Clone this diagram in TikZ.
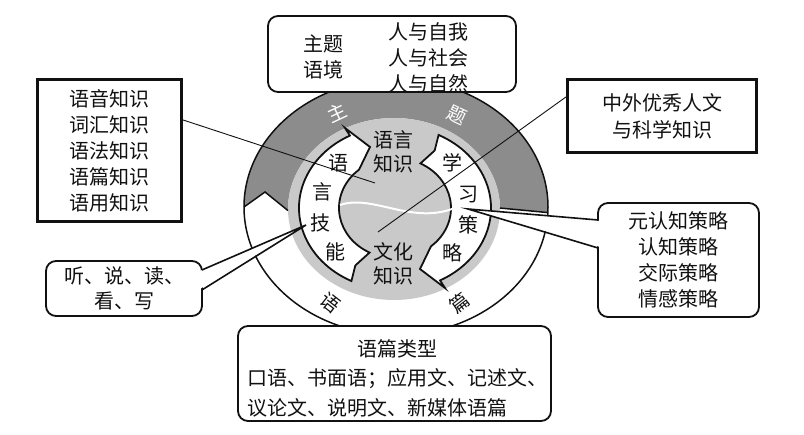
\documentclass[tikz,border=0pt]{standalone}
\usepackage{fontspec}
\newfontfamily\cjk{Noto Sans CJK SC}
\usepackage{xcolor}
\definecolor{ink}{HTML}{111111}
\definecolor{themegray}{HTML}{8C8C8C}
\definecolor{ringgray}{HTML}{C9C9C9}
\usepackage{tikz}
\usetikzlibrary{calc}
% one curved arrow of the inner ring, drawn round the origin
\newcommand{\ringarrow}{%
  (243:96pt and 82pt) arc[start angle=243, end angle=118, x radius=96pt, y radius=82pt]
  -- (-50,80) -- (-25,61) -- (130:56pt and 50pt)
  arc[start angle=130, end angle=243, x radius=56pt, y radius=50pt]
  -- (239:77pt and 67pt) -- cycle}

\begin{document}
\begin{tikzpicture}[x=1pt, y=1pt,
  font=\cjk\fontsize{20}{26}\selectfont,
  txt/.style={align=center, inner sep=0pt, text=ink},
  sqbox/.style={draw=ink, line width=3.2pt, fill=white, inner sep=0pt, align=center, text=ink},
  rbox/.style={draw=ink, line width=1.8pt, fill=white, rounded corners=10pt, inner sep=0pt,
               align=center, text=ink},
  lead/.style={draw=ink, line width=0.9pt},
  ptr/.style={draw=ink, line width=1.6pt, line join=miter},
  arrowbody/.style={draw=ink, line width=1.8pt, fill=white, line join=miter},
  ringtxt/.style={inner sep=0pt, font=\cjk\fontsize{19}{19}\selectfont}
]
  \useasboundingbox (0,0) rectangle (804,-435);
  \coordinate (oc) at (396,-207);
  \coordinate (gc) at (394,-209);

  % outer ring: theme (dark) and discourse (white)
  \fill[white] (oc) ellipse[x radius=152pt, y radius=128pt];
  \fill[themegray] ($(oc)+(-2.5:152pt and 128pt)$)
        arc[start angle=-2.5, end angle=180, x radius=152pt, y radius=128pt]
        -- (265,-192) -- ($(gc)+(181:106pt and 91pt)$)
        arc[start angle=181, end angle=0.6, x radius=106pt, y radius=91pt] -- cycle;
  \fill[ringgray] (gc) ellipse[x radius=106pt, y radius=91pt];
  \draw[ink, line width=1.5pt] (oc) ellipse[x radius=152pt, y radius=128pt];
  \draw[ink, line width=1.5pt] ($(oc)+(180:152pt and 128pt)$) -- (265,-192)
        -- ($(gc)+(181:106pt and 91pt)$);
  \draw[ink, line width=1.5pt] ($(oc)+(-2.5:152pt and 128pt)$) -- ($(gc)+(0.6:106pt and 91pt)$);

  % inner ring arrows
  \begin{scope}[shift={(395,-208)}]
    \draw[arrowbody] \ringarrow;
  \end{scope}
  \begin{scope}[shift={(395,-208)}, rotate=180]
    \draw[arrowbody] \ringarrow;
  \end{scope}

  % ring labels
  \node[ringtxt, text=white, rotate=25]  (zt1) at (337,-113) {主};
  \node[ringtxt, text=white, rotate=-25] (zt2) at (457,-115) {题};
  \node[ringtxt, text=ink, rotate=-38]   (yp1) at (330,-303) {语};
  \node[ringtxt, text=ink, rotate=38]    (yp2) at (460,-303) {篇};
  \foreach \ch/\x/\y [count=\i] in {语/338/163, 言/322/192, 技/320/223, 能/335/252}
    \node[txt] (ls\i) at (\x,-\y) {\ch};
  \foreach \ch/\x/\y [count=\i] in {学/452/163, 习/468/195, 策/468/225, 略/452/253}
    \node[txt] (xc\i) at (\x,-\y) {\ch};
  \node[txt, font=\cjk\fontsize{20}{24}\selectfont] (lang) at (393,-152) {语言\\知识};
  \node[txt, font=\cjk\fontsize{20}{24}\selectfont] (cul)  at (393,-264) {文化\\知识};
  \draw[white, line width=2pt] (340,-205) .. controls (372,-194) and (410,-224) .. (452,-209);

  % boxes
  \node[rbox, minimum width=248pt, minimum height=76pt] (theme) at (392,-54) {};
  \node[txt] (themel) at (323,-57) {主题\\语境};
  \node[txt] (themer) at (428,-58) {人与自我\\人与社会\\人与自然};
  \node[sqbox, minimum width=144pt, minimum height=142pt] (lk) at (109.5,-150.5)
        {语音知识\\词汇知识\\语法知识\\语篇知识\\语用知识};
  \node[sqbox, minimum width=189pt, minimum height=73pt, font=\cjk\fontsize{20}{27}\selectfont]
        (cult) at (662,-116) {中外优秀人文\\与科学知识};
  \node[rbox, minimum width=161pt, minimum height=114pt] (strat) at (678.5,-260)
        {元认知策略\\认知策略\\交际策略\\情感策略};
  \node[rbox, minimum width=156pt, minimum height=55pt, font=\cjk\fontsize{20}{25}\selectfont]
        (skill) at (124,-288.5) {听、说、读、\\看、写};
  \node[rbox, minimum width=313pt, minimum height=95pt] (disc) at (394.5,-373.5) {};
  \node[txt, align=left, anchor=west, font=\cjk\fontsize{20}{29.5}\selectfont] (disct) at (247,-378)
        {\makebox[300pt]{语篇类型}\\口语、书面语；应用文、记述文、\\议论文、说明文、新媒体语篇};

  % leaders and pointers
  \coordinate (lktip) at (375,-183);
  \coordinate (culttip) at (378,-232);
  \coordinate (skilltip) at (306,-225);
  \coordinate (strattip) at (468,-209);
  \draw[lead] ([yshift=30.5pt]lk.east) -- (lktip);
  \draw[lead] ([yshift=19pt]cult.west) -- (culttip);
  \fill[white] ([shift={(-3pt,17.5pt)}]skill.east) -- (skilltip) -- ([shift={(-3pt,-0.5pt)}]skill.east) -- cycle;
  \draw[ptr] ([shift={(-1pt,18.5pt)}]skill.east) -- (skilltip) -- ([shift={(-1pt,-1.5pt)}]skill.east);
  \fill[white] ([shift={(3pt,39pt)}]strat.west) -- (strattip) -- ([shift={(3pt,13pt)}]strat.west) -- cycle;
  \draw[ptr] ([shift={(1pt,40pt)}]strat.west) -- (strattip) -- ([shift={(1pt,12pt)}]strat.west);
\end{tikzpicture}
\end{document}
